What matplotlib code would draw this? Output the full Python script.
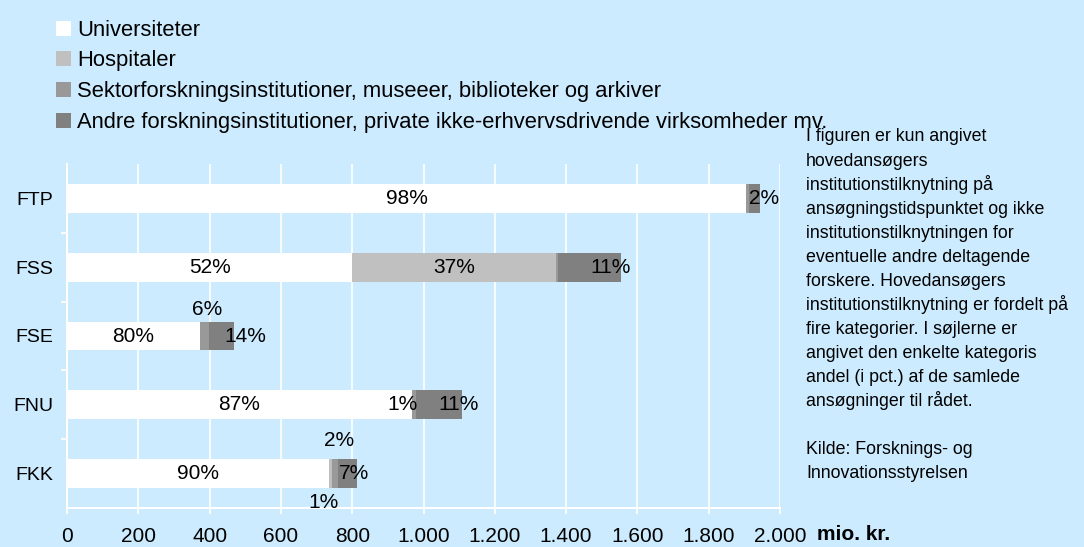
import matplotlib.pyplot as plt
from matplotlib.patches import Patch
from matplotlib.ticker import MultipleLocator, FuncFormatter

# data (mio. kr.), top to bottom
categories = ['FTP', 'FSS', 'FSE', 'FNU', 'FKK']
universiteter = [1905, 800, 373, 968, 735]
hospitaler = [0, 571, 0, 0, 7]
sektor = [8, 7, 25, 10, 17]
andre = [32, 177, 70, 130, 55]

# percentage labels shown in the bars
lab_uni = ['98%', '52%', '80%', '87%', '90%']
lab_hosp = ['', '37%', '', '', '1%']
lab_sektor = ['', '', '6%', '1%', '2%']
lab_andre = ['2%', '11%', '14%', '11%', '7%']

legend_names = ['Universiteter', 'Hospitaler',
                'Sektorforskningsinstitutioner, museeer, biblioteker og arkiver',
                'Andre forskningsinstitutioner, private ikke-erhvervsdrivende virksomheder mv.']
colours = ['#FFFFFF', '#C0C0C0', '#999999', '#808080']

note_lines = ['I figuren er kun angivet', 'hovedansøgers', 'institutionstilknytning på',
              'ansøgningstidspunktet og ikke', 'institutionstilknytningen for',
              'eventuelle andre deltagende', 'forskere. Hovedansøgers',
              'institutionstilknytning er fordelt på', 'fire kategorier. I søjlerne er',
              'angivet den enkelte kategoris', 'andel (i pct.) af de samlede',
              'ansøgninger til rådet.', '', 'Kilde: Forsknings- og',
              'Innovationsstyrelsen']

bg = '#CCEBFE'
plt.rcParams['font.family'] = ['Liberation Sans', 'DejaVu Sans']

fig = plt.figure(figsize=(10.84, 5.47), dpi=100, facecolor=bg)
ax = fig.add_axes([67 / 1084, 1 - 508 / 547, 713 / 1084, 344 / 547])
ax.set_facecolor(bg)

y = list(range(len(categories)))
h = 0.42
series = [universiteter, hospitaler, sektor, andre]
labels = [lab_uni, lab_hosp, lab_sektor, lab_andre]

# manual label offsets (points), keyed by (series, bar)
offsets = {
    (3, 0): (7, 0), (3, 1): (15, 0), (2, 2): (2, 19), (3, 2): (17, 0),
    (2, 3): (-8, 0), (3, 3): (14, 0), (2, 4): (3, 24), (3, 4): (5, 0),
    (1, 4): (-5, -21),
}

left = [0] * len(categories)
for s, (vals, col) in enumerate(zip(series, colours)):
    bars = ax.barh(y, vals, height=h, left=left, color=col, edgecolor='none', zorder=2)
    for i, b in enumerate(bars):
        txt = labels[s][i]
        if txt:
            cx = b.get_x() + b.get_width() / 2
            ax.annotate(txt, (cx, i), xytext=offsets.get((s, i), (0, 0)),
                        textcoords='offset points', ha='center', va='center',
                        fontsize=15, zorder=3)
    left = [l + v for l, v in zip(left, vals)]

ax.set_xlim(0, 2000)
ax.set_ylim(len(categories) - 0.5, -0.5)
ax.xaxis.set_major_locator(MultipleLocator(200))
ax.xaxis.set_major_formatter(FuncFormatter(lambda v, p: f'{int(v):,}'.replace(',', '.')))
ax.set_yticks(y)
ax.set_yticklabels(categories)
ax.set_yticks([i + 0.5 for i in y[:-1]], minor=True)

ax.xaxis.grid(True, color='white', lw=1.2, zorder=1)
ax.set_axisbelow(True)
for side in ['top', 'right']:
    ax.spines[side].set_visible(False)
for side in ['left', 'bottom']:
    ax.spines[side].set_color('white')
    ax.spines[side].set_linewidth(1.5)

ax.tick_params(axis='x', colors='white', length=4.5, width=1.2, labelsize=15,
               labelcolor='black', pad=9)
ax.tick_params(axis='y', which='major', length=0, labelsize=14, pad=10)
ax.tick_params(axis='y', which='minor', colors='white', length=4, width=1.2)

fig.text(817 / 1084, 1 - 535 / 547, 'mio. kr.', fontsize=15, fontweight='bold',
         ha='left', va='center')

handles = [Patch(facecolor=c, edgecolor='none') for c in colours]
fig.legend(handles, legend_names, loc='upper left', bbox_to_anchor=(47 / 1084, 1 - 11 / 547),
           frameon=False, fontsize=15.8, handlelength=0.68, handleheight=0.68,
           handletextpad=0.3, labelspacing=0.44, borderaxespad=0)

for k, line in enumerate(note_lines):
    fig.text(806 / 1084, 1 - (137 + 24 * k) / 547, line, fontsize=12.8,
             ha='left', va='center')

fig.savefig('out.png', dpi=100, facecolor=bg)
